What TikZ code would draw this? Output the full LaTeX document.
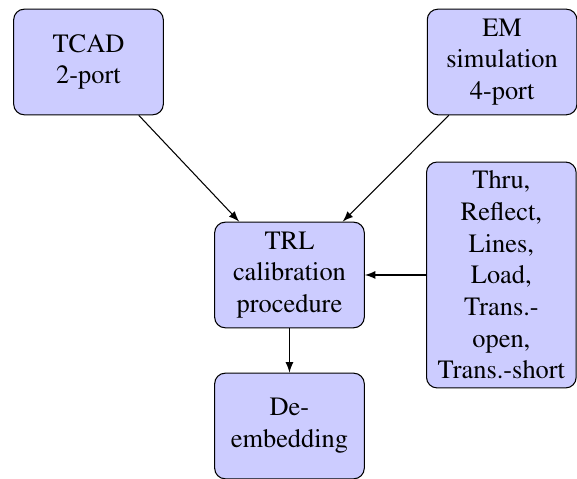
\documentclass[tikz,border=0pt]{standalone}
\usepackage[T1]{fontenc}
\usepackage{times}
\usepackage{tikz}

\begin{document}
\begin{tikzpicture}[box/.style={rectangle,draw,fill=blue!20,text width=5em,align=center,rounded corners,minimum height=4em}]
\useasboundingbox (-3.853,-2.715) rectangle (3.827,3.66);
\node[box] (trl) at (0,0) {TRL\\calibration\\procedure};
\node[box] (tcad) at (-2.675,2.835) {TCAD\\2-port};
\node[box] (em) at (2.83,2.835) {EM\\simulation\\4-port};
\node[box] (std) at (2.82,0) {Thru,\\Reflect,\\Lines,\\Load,\\Trans.-\\open,\\Trans.-short};
\node[box] (deemb) at (0,-2.01) {De-\\embedding};
\draw[-latex] (tcad) -- (trl);
\draw[-latex] (em) -- (trl);
\draw[-latex] (std) -- (trl);
\draw[-latex] (trl) -- (deemb);
\end{tikzpicture}
\end{document}
